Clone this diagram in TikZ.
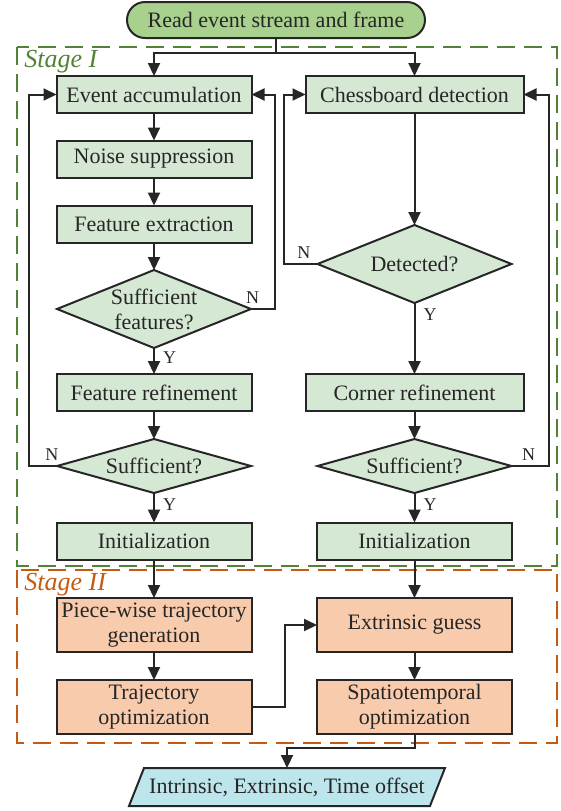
\documentclass[tikz,border=0pt]{standalone}
\usepackage{fontspec}
\setmainfont{Liberation Serif}
\usepackage{tikz}
\usetikzlibrary{shapes.geometric, arrows.meta, positioning}
\definecolor{boxgreen}{RGB}{213, 232, 212}
\definecolor{termgreen}{RGB}{169, 209, 142}
\definecolor{boxorange}{RGB}{248, 203, 173}
\definecolor{outblue}{RGB}{189, 229, 236}
\definecolor{stagegreen}{RGB}{84, 130, 53}
\definecolor{stageorange}{RGB}{197, 90, 17}
\definecolor{linegray}{RGB}{38, 38, 38}

\begin{document}
\begin{tikzpicture}[
  x=0.5pt, y=-0.5pt,
  node distance=14pt and 27pt,
  font=\fontsize{11}{12.5}\selectfont,
  box/.style={rectangle, draw=linegray, line width=1pt, outer sep=0pt, fill=boxgreen, minimum width=97.5pt, minimum height=18.5pt, inner sep=2pt, align=center, text=linegray},
  widebox/.style={box, minimum width=109pt},
  optbox/.style={box, fill=boxorange, minimum height=27pt},
  decision/.style={diamond, draw=linegray, line width=1pt, outer sep=0pt, fill=boxgreen, aspect=2.5, inner sep=0pt, minimum width=97pt, minimum height=39pt, align=center, text=linegray},
  terminal/.style={rectangle, rounded corners=9pt, draw=linegray, line width=1pt, outer sep=0pt, fill=termgreen, minimum width=149pt, minimum height=18pt, text=linegray},
  iobox/.style={trapezium, trapezium left angle=65, trapezium right angle=115, trapezium stretches body, draw=linegray, line width=1pt, outer sep=0pt, fill=outblue, inner xsep=0pt, minimum width=158pt, minimum height=19pt, text=linegray},
  stageframe/.style={dash pattern=on 9pt off 4.5pt, line width=1pt},
  stagelabel/.style={font=\fontsize{13}{15}\selectfont\itshape, anchor=base west, inner sep=0pt},
  arrow/.style={-{Triangle[length=6.5pt, width=6pt]}, line width=1pt, draw=linegray},
  lbl/.style={font=\fontsize{9}{10}\selectfont, inner sep=1pt, text=linegray},
  nlbl/.style={lbl, above, yshift=1.5pt},
  ylbl/.style={lbl, right, xshift=3pt}
]
  \useasboundingbox (0,0) rectangle (561,811);

  \draw[stageframe, draw=stagegreen] (17,47) rectangle (557,566);
  \draw[stageframe, draw=stageorange] (17,570) rectangle (557,743);
  \node[stagelabel, text=stagegreen] (stage1) at (24,67) {Stage I};
  \node[stagelabel, text=stageorange] (stage2) at (24,590) {Stage II};

  \node[terminal] (start) at (276,20) {Read event stream and frame};

  \node[box] (acc) at (154,94.5) {Event accumulation};
  \node[box, below=13.75pt of acc] (noise) {Noise suppression};
  \node[box, below=of noise] (feat) {Feature extraction};
  \node[decision, below=13.75pt of feat] (suffeat) {Sufficient\\features?};
  \node[box, below=13pt of suffeat] (featref) {Feature refinement};
  \node[decision, aspect=3.7, minimum height=27pt, below=of featref] (suf1) {Sufficient?};
  \node[box, below=14.75pt of suf1] (init1) {Initialization};

  \node[widebox, right=of acc] (chess) {Chessboard detection};
  \node[decision, below=56pt of chess] (det) {Detected?};
  \node[widebox] (cornref) at (featref -| chess) {Corner refinement};
  \node[decision, aspect=3.7, minimum height=27pt] (suf2) at (suf1 -| chess) {Sufficient?};
  \node[box] (init2) at (init1 -| chess) {Initialization};

  \node[optbox, below=19.25pt of init1] (piece) {Piece-wise trajectory\\generation};
  \node[optbox, below=of piece] (trajopt) {Trajectory\\optimization};
  \node[optbox] (guess) at (piece -| chess) {Extrinsic guess};
  \node[optbox] (spatio) at (trajopt -| chess) {Spatiotemporal\\optimization};

  \node[iobox] (result) at (287,787) {Intrinsic, Extrinsic, Time offset};

  \draw[arrow] (start.south) -- ++(0,15) -| (acc);
  \draw[arrow] (start.south) -- ++(0,15) -| (chess);

  \draw[arrow] (acc) -- (noise);
  \draw[arrow] (noise) -- (feat);
  \draw[arrow] (feat) -- (suffeat);
  \draw[arrow] (suffeat) -- node[ylbl, pos=0.37] {Y} (featref);
  \draw[arrow] (featref) -- (suf1);
  \draw[arrow] (suf1) -- node[ylbl, pos=0.38] {Y} (init1);
  \draw[arrow] (suffeat.east) -- node[nlbl, pos=0.07] {N} ++(24,0) |- (acc.east);
  \draw[arrow] (suf1.west) -- node[nlbl, pos=0.18] {N} ++(-28,0) |- (acc.west);

  \draw[arrow] (chess) -- (det);
  \draw[arrow] (det) -- node[ylbl, pos=0.16] {Y} (cornref);
  \draw[arrow] (cornref) -- (suf2);
  \draw[arrow] (suf2) -- node[ylbl, pos=0.38] {Y} (init2);
  \draw[arrow] (det.west) -- node[nlbl, pos=0.4] {N} ++(-34,0) |- (chess.west);
  \draw[arrow] (suf2.east) -- node[nlbl, pos=0.46] {N} ++(37,0) |- (chess.east);

  \draw[arrow] (init1) -- (piece);
  \draw[arrow] (init2) -- (guess);
  \draw[arrow] (piece) -- (trajopt);
  \draw[arrow] (guess) -- (spatio);
  \draw[arrow] (trajopt.east) -- ++(33,0) |- (guess.west);
  \draw[arrow] (spatio.south) -- ++(0,14) -| (result);
\end{tikzpicture}
\end{document}
